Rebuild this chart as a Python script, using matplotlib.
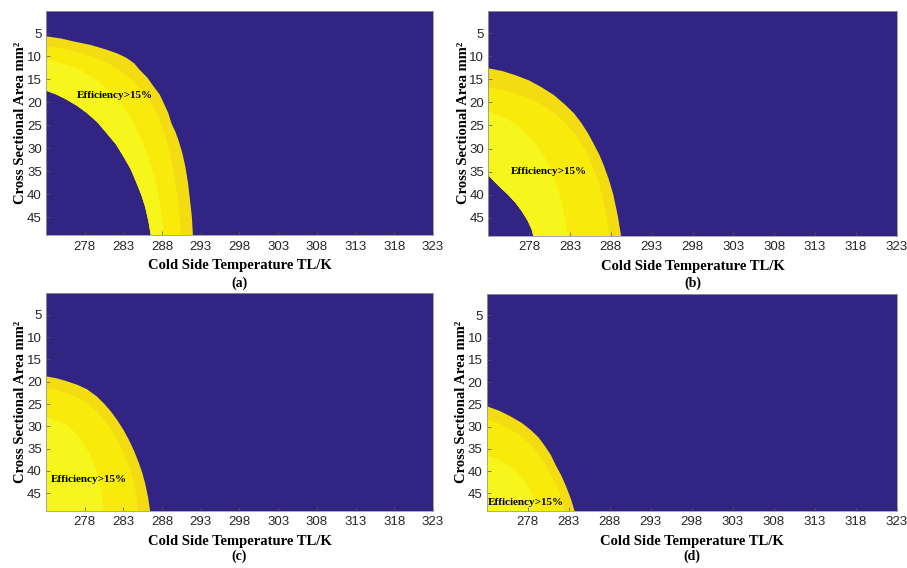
import numpy as np
import matplotlib
matplotlib.use('Agg')
import matplotlib.pyplot as plt


############################################
"""        Efficiency contour bounds      """
############################################
# T = cold side temperature (K), A = cross sectional area (mm^2)

# (a)
a_outer_T = [273.0, 275.0, 276.5, 278.8, 280.8, 282.3, 283.4, 284.4, 285.1, 286.1, 286.9, 287.7,
             288.2, 288.8, 289.2, 289.7, 290.1, 290.6, 291.0, 291.35, 291.6, 291.85, 292.0]
a_outer_A = [5.7, 6.2, 6.8, 7.6, 8.6, 9.5, 10.4, 11.6, 13.0, 14.7, 16.6, 18.4,
             20.2, 22.4, 24.6, 26.4, 28.2, 31.0, 34.0, 37.6, 41.2, 45.0, 49.5]
a_mid_T = [273.0, 274.8, 276.4, 278.1, 279.6, 281.2, 282.6, 283.9, 285.0, 286.0, 286.8,
           287.5, 288.0, 288.55, 289.0, 289.4, 289.7, 290.0, 290.2, 290.35, 290.4]
a_mid_A = [8.0, 8.3, 8.9, 9.6, 10.5, 11.7, 13.2, 14.9, 16.8, 18.7, 20.8,
           23.1, 25.5, 28.2, 31.0, 34.2, 37.5, 40.5, 43.5, 46.5, 49.5]
a_core_T = [273.0, 274.5, 275.9, 277.5, 278.9, 280.25, 281.4, 282.5, 283.4, 284.3,
            285.0, 285.7, 286.3, 286.85, 287.3, 287.65, 287.9, 288.1, 288.2]
a_core_A = [10.8, 11.3, 12.0, 13.1, 14.5, 16.1, 18.0, 19.9, 22.0, 24.4,
            27.0, 29.7, 32.5, 35.5, 38.5, 41.2, 44.0, 46.7, 49.5]
a_inner_T = [273.0, 274.4, 275.7, 277.05, 278.3, 279.65, 280.8, 282.0, 283.0, 283.95,
             284.7, 285.3, 285.8, 286.25, 286.6]
a_inner_A = [17.5, 18.4, 19.5, 20.85, 22.4, 24.4, 26.7, 29.1, 31.8, 34.6,
             37.6, 40.1, 42.7, 46.0, 49.5]

# (b)
b_outer_T = [273.0, 274.7, 276.3, 278.0, 279.5, 281.05, 282.4, 283.5, 284.4, 285.2,
             285.9, 286.55, 287.1, 287.75, 288.3, 288.85, 289.3]
b_outer_A = [12.6, 13.2, 14.1, 15.25, 16.7, 18.45, 20.5, 22.4, 24.5, 26.7,
             29.0, 31.2, 33.5, 36.7, 40.0, 44.6, 49.5]
b_mid_T = [273.0, 274.9, 276.7, 278.45, 280.0, 281.4, 282.6, 283.6, 284.4, 285.2,
           285.8, 286.4, 286.9, 287.45, 287.9]
b_mid_A = [16.7, 17.35, 18.3, 19.5, 21.0, 22.75, 24.8, 26.8, 29.0, 31.4,
           34.0, 36.9, 40.0, 44.6, 49.5]
b_core_T = [273.0, 274.3, 275.5, 276.75, 277.8, 278.8, 279.6, 280.4, 281.0, 281.55,
            282.0, 282.45, 282.8]
b_core_A = [22.0, 22.8, 23.8, 25.25, 27.0, 28.9, 31.0, 33.4, 36.0, 38.9,
            42.0, 45.6, 49.5]
b_inner_T = [273.0, 273.7, 274.5, 275.4, 276.3, 277.1, 277.8, 278.3, 278.6]
b_inner_A = [35.8, 37.1, 38.5, 40.0, 41.7, 43.6, 45.6, 47.5, 49.5]

# (c)
c_outer_T = [273.0, 274.4, 275.7, 277.05, 278.3, 279.5, 280.5, 281.4, 282.2, 283.0,
             283.7, 284.4, 285.0, 285.45, 285.8, 286.2, 286.5]
c_outer_A = [18.8, 19.25, 19.9, 20.7, 21.7, 23.2, 24.9, 26.7, 28.6, 30.75,
             33.0, 35.6, 38.2, 40.5, 42.7, 46.0, 49.5]
c_mid_T = [273.0, 274.5, 276.0, 277.3, 278.5, 279.55, 280.5, 281.4, 282.2, 282.9,
           283.5, 284.0, 284.4, 284.7, 284.9]
c_mid_A = [21.4, 21.95, 22.7, 23.75, 25.0, 26.7, 28.5, 30.7, 33.0, 35.5,
           38.0, 40.5, 43.0, 46.2, 49.5]
c_core_T = [273.0, 274.3, 275.5, 276.6, 277.5, 278.3, 279.0, 279.55, 280.0, 280.3, 280.5]
c_core_A = [28.0, 28.6, 29.5, 31.1, 33.0, 35.2, 37.5, 40.2, 43.0, 46.2, 49.5]

# (d)
d_outer_T = [273.0, 274.6, 276.0, 277.3, 278.4, 279.3, 280.0, 280.8, 281.4, 282.1,
             282.7, 283.3, 283.8]
d_outer_A = [25.4, 26.5, 27.8, 29.2, 30.8, 32.4, 34.1, 36.3, 38.6, 41.0,
             43.5, 46.4, 49.5]
d_mid_T = [273.0, 274.5, 275.8, 277.0, 278.0, 278.9, 279.6, 280.3, 280.9, 281.45,
           281.9, 282.3, 282.6]
d_mid_A = [28.4, 29.3, 30.5, 31.9, 33.5, 35.2, 37.0, 39.0, 41.0, 43.0,
           45.0, 47.2, 49.5]
d_core_T = [273.0, 274.3, 275.5, 276.5, 277.3, 278.0, 278.5, 278.9, 279.2]
d_core_A = [36.5, 37.3, 38.5, 39.9, 41.5, 43.2, 45.0, 47.2, 49.5]

x_ticks = [278, 283, 288, 293, 298, 303, 308, 313, 318, 323]
y_ticks = [5, 10, 15, 20, 25, 30, 35, 40, 45]
panel_tags = ['(a)', '(b)', '(c)', '(d)']
note = 'Efficiency>15%'


############################################
"""                 Plot                  """
############################################

navy = '#322482'
band_colors = ['#F3DC12', '#F8EB0C', '#F6F61C']   # 15% edge -> peak

panels = [
    ([(a_outer_T, a_outer_A), (a_mid_T, a_mid_A), (a_core_T, a_core_A)], (a_inner_T, a_inner_A)),
    ([(b_outer_T, b_outer_A), (b_mid_T, b_mid_A), (b_core_T, b_core_A)], (b_inner_T, b_inner_A)),
    ([(c_outer_T, c_outer_A), (c_mid_T, c_mid_A), (c_core_T, c_core_A)], None),
    ([(d_outer_T, d_outer_A), (d_mid_T, d_mid_A), (d_core_T, d_core_A)], None),
]

# axes boxes in figure fractions
rects = [[0.0507, 0.5863, 0.4267, 0.3944],
         [0.5384, 0.5850, 0.4503, 0.3956],
         [0.0507, 0.1009, 0.4267, 0.3827],
         [0.5366, 0.1009, 0.4520, 0.3815]]
note_pos = [(277.0, 18.6), (275.8, 34.9), (273.6, 41.9), (273.1, 47.1)]
tag_y = [0.502, 0.502, 0.020, 0.020]

W, H = 907, 568
fig = plt.figure(figsize=(W / 100, H / 100), dpi=100, facecolor='white')

for i, (curves, inner) in enumerate(panels):
    ax = fig.add_axes(rects[i])
    ax.set_facecolor(navy)

    for (T, A), col in zip(curves, band_colors):
        if inner is None:
            xs = list(T) + [273.0]
            ys = list(A) + [A[-1]]
        else:
            xs = list(T) + inner[0][::-1]
            ys = list(A) + inner[1][::-1]
        ax.fill(xs, ys, color=col, lw=0, zorder=1)

    ax.set_xlim(273, 323)
    ax.set_ylim(48.9, 0.2)
    ax.set_xticks(x_ticks)
    ax.set_yticks(y_ticks)
    ax.tick_params(direction='in', length=3, width=0.5, colors='#555555',
                   labelcolor='#262626', labelsize=9.5)
    ax.tick_params(axis='x', pad=4)
    ax.tick_params(axis='y', pad=3)
    for lab in ax.get_xticklabels() + ax.get_yticklabels():
        lab.set_fontfamily('Liberation Sans')
    for s in ax.spines.values():
        s.set_color('#9a9a9a')
        s.set_linewidth(0.6)

    ax.text(note_pos[i][0], note_pos[i][1], note, fontfamily='Liberation Serif',
            fontweight='bold', fontsize=8, ha='left', va='center', color='black', zorder=3)

    w_px = rects[i][2] * W
    h_px = rects[i][3] * H
    ax.set_xlabel('Cold Side Temperature TL/K', fontfamily='Liberation Serif',
                  fontweight='bold', fontsize=10.5)
    ax.xaxis.label.set_verticalalignment('center')
    ax.xaxis.set_label_coords(0.5, -31 / h_px)
    ax.set_ylabel('Cross Sectional Area mm²', fontfamily='Liberation Serif',
                  fontweight='bold', fontsize=10.5)
    ax.yaxis.label.set_verticalalignment('center')
    ax.yaxis.set_label_coords(-25 / w_px, 0.5)

    fig.text(rects[i][0] + rects[i][2] / 2, tag_y[i], panel_tags[i],
             fontfamily='Liberation Serif', fontweight='bold', fontsize=10,
             ha='center', va='center')

plt.savefig('out.png', dpi=100, facecolor='white')
